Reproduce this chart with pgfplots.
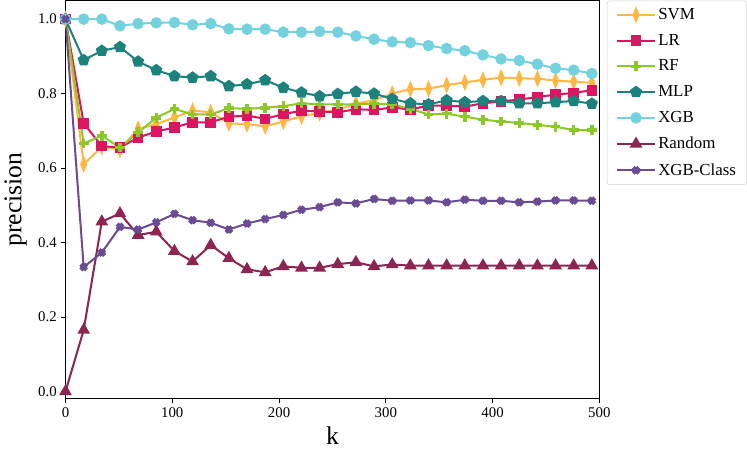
\documentclass[border=0pt]{standalone}
\usepackage{fontspec}
\setmainfont{Liberation Serif}
\usepackage{pgfplots}
\usepackage{pgfplotstable}
\pgfplotsset{compat=1.18}
\usetikzlibrary{plotmarks}
\definecolor{csvm}{HTML}{FFB845}
\definecolor{clr}{HTML}{DC1560}
\definecolor{crf}{HTML}{8CC82A}
\definecolor{cmlp}{HTML}{1E827C}
\definecolor{cxgb}{HTML}{74D2DF}
\definecolor{crand}{HTML}{8C2552}
\definecolor{cxc}{HTML}{694C93}
\pgfplotstableread{
k svm lr rf mlp xgb rand xc
0 1.0 1.0 1.0 1.0 1.0 0.0 1.0
17 0.610 0.720 0.666 0.890 1.000 0.165 0.334
34 0.657 0.659 0.687 0.915 1.000 0.456 0.373
51 0.650 0.655 0.655 0.925 0.982 0.478 0.442
68 0.705 0.682 0.696 0.886 0.988 0.420 0.435
85 0.718 0.698 0.735 0.863 0.990 0.429 0.454
102 0.736 0.709 0.759 0.847 0.991 0.377 0.477
119 0.754 0.723 0.744 0.843 0.985 0.349 0.460
136 0.750 0.723 0.744 0.847 0.988 0.393 0.453
153 0.720 0.738 0.761 0.820 0.974 0.358 0.435
170 0.718 0.741 0.759 0.825 0.973 0.328 0.451
187 0.712 0.732 0.762 0.836 0.973 0.320 0.463
204 0.725 0.745 0.766 0.816 0.965 0.336 0.474
221 0.739 0.754 0.774 0.803 0.965 0.332 0.488
238 0.748 0.752 0.771 0.793 0.967 0.332 0.495
255 0.757 0.750 0.771 0.799 0.965 0.342 0.508
272 0.773 0.758 0.771 0.805 0.955 0.347 0.505
289 0.782 0.756 0.773 0.800 0.946 0.336 0.517
306 0.800 0.763 0.771 0.786 0.939 0.341 0.512
323 0.812 0.757 0.759 0.774 0.937 0.338 0.513
340 0.813 0.768 0.744 0.771 0.929 0.338 0.513
357 0.823 0.768 0.746 0.782 0.921 0.338 0.508
374 0.830 0.765 0.738 0.777 0.915 0.338 0.515
391 0.837 0.774 0.730 0.780 0.904 0.338 0.512
408 0.843 0.779 0.725 0.780 0.893 0.338 0.512
425 0.841 0.784 0.721 0.774 0.889 0.338 0.508
442 0.840 0.791 0.716 0.774 0.879 0.338 0.510
459 0.835 0.797 0.711 0.777 0.868 0.338 0.513
476 0.832 0.802 0.702 0.780 0.863 0.338 0.513
493 0.829 0.809 0.702 0.773 0.854 0.338 0.512
}\datatable
\begin{document}
\begin{tikzpicture}
\begin{axis}[
  scale only axis,
  width=396pt, height=295.5pt,
  xmin=0, xmax=500, ymin=-0.02, ymax=1.05,
  xtick={0,100,200,300,400,500},
  ytick={0,0.2,0.4,0.6,0.8,1.0},
  yticklabel style={/pgf/number format/.cd, fixed, fixed zerofill, precision=1},
  /pgf/number format/assume math mode=true,
  tick label style={font=\fontsize{11}{12}\selectfont},
  xlabel={k}, ylabel={precision},
  label style={font=\fontsize{19}{21}\selectfont},
  ylabel style={yshift=1.5pt},
  tick align=outside, tick pos=left,
  major tick length=3pt,
  every tick/.style={black, line width=0.6pt},
  axis line style={line width=0.8pt},
  legend style={at={(1.014,1)}, anchor=north west, draw=gray!35,
    rounded corners=2pt, font=\fontsize{12.5}{13}\selectfont,
    row sep=6.4pt, inner xsep=6.5pt, inner ysep=4pt,
    nodes={inner sep=1.5pt},
    /tikz/every even column/.append style={column sep=10pt}},
  legend image code/.code={\draw[mark repeat=2,mark phase=2] plot coordinates {(0cm,0cm) (0.5cm,0cm) (1cm,0cm)};},
  legend cell align=left,
  every axis plot/.append style={line width=1.5pt},
]
\addplot[color=csvm, mark=diamond*, mark size=4.5pt, mark options={solid, xscale=0.55, fill=csvm}] table[x=k, y=svm] {\datatable};
\addlegendentry{SVM}
\addplot[color=clr, mark=square*, mark size=3.2pt, mark options={solid, fill=clr}] table[x=k, y=lr] {\datatable};
\addlegendentry{LR}
\addplot[color=crf, mark=+, mark size=3.6pt, mark options={solid, line width=2.6pt}] table[x=k, y=rf] {\datatable};
\addlegendentry{RF}
\addplot[color=cmlp, mark=pentagon*, mark size=3.8pt, mark options={solid, fill=cmlp}] table[x=k, y=mlp] {\datatable};
\addlegendentry{MLP}
\addplot[color=cxgb, mark=*, mark size=3.5pt, mark options={solid, fill=cxgb}] table[x=k, y=xgb] {\datatable};
\addlegendentry{XGB}
\addplot[color=crand, mark=triangle*, mark size=4pt, mark options={solid, fill=crand}] table[x=k, y=rand] {\datatable};
\addlegendentry{Random}
\addplot[color=cxc, mark=x, mark size=3pt, mark options={solid, line width=3.2pt}] table[x=k, y=xc] {\datatable};
\addlegendentry{XGB-Class}
\end{axis}
\end{tikzpicture}
\end{document}
